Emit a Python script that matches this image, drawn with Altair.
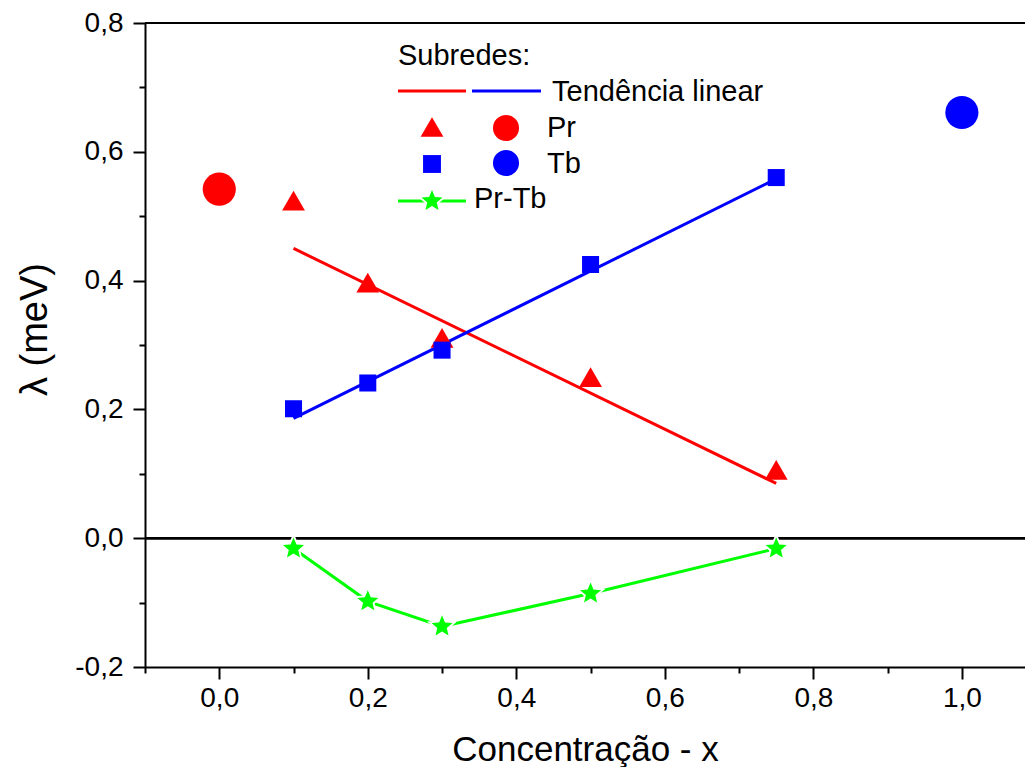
import altair as alt
import pandas as pd

# ---------------- data ----------------
x_sub = [0.1, 0.2, 0.3, 0.5, 0.75]
pr_sub = [0.524, 0.397, 0.311, 0.250, 0.106]
tb_sub = [0.201, 0.241, 0.292, 0.425, 0.560]
prtb_sub = [-0.016, -0.098, -0.137, -0.086, -0.016]

x_pure = [0.0, 1.0]
pure_vals = [0.542, 0.661]
pure_names = ["Pr", "Tb"]

trend_x = [0.1, 0.75]
trend_pr = [0.450, 0.085]
trend_tb = [0.186, 0.558]

x_major = [0.0, 0.2, 0.4, 0.6, 0.8, 1.0]
x_minor = [-0.1, 0.1, 0.3, 0.5, 0.7, 0.9]
y_major = [-0.2, 0.0, 0.2, 0.4, 0.6, 0.8]
y_minor = [-0.1, 0.1, 0.3, 0.5, 0.7]

legend_title = "Subredes:"
legend_labels = ["Tendência linear", "Pr", "Tb", "Pr-Tb"]

# ---------------- styles ----------------
RED = "#FF0000"
BLUE = "#0000FF"
GREEN = "#00FF00"
LABEL_FONT = "Liberation Sans"
TITLE_FONT = "Liberation Sans"
STAR = ("M0,-1L0.265,-0.364L0.951,-0.309L0.428,0.139L0.588,0.809L0,0.45"
        "L-0.588,0.809L-0.428,0.139L-0.951,-0.309L-0.265,-0.364Z")

df_sub = pd.DataFrame({"x": x_sub, "pr": pr_sub, "tb": tb_sub, "prtb": prtb_sub})
df_trend = pd.DataFrame({"x": trend_x, "pr": trend_pr, "tb": trend_tb})
df_pure = pd.DataFrame({"x": x_pure, "y": pure_vals, "name": pure_names})

xscale = alt.Scale(domain=[-0.1, 1.085], nice=False, zero=False)
yscale = alt.Scale(domain=[-0.2, 0.8], nice=False, zero=False)

label_expr = ("(datum.value < -0.001 ? '-' : '') + "
              "replace(format(abs(datum.value), '.1f'), '.', ',')")

common_axis = dict(
    grid=False, domainColor="black", domainWidth=2, tickColor="black", tickWidth=2,
    labelFont=LABEL_FONT, labelFontSize=28, labelColor="black", labelOverlap=False,
    labelFlush=False, titleFont=TITLE_FONT, titleFontWeight="normal",
    titleColor="black", labelExpr=label_expr, tickSize=12,
)
x_axis = alt.Axis(values=x_major, title="Concentração - x", labelPadding=5,
                  titlePadding=20, titleFontSize=35, orient="bottom", **common_axis)
y_axis = alt.Axis(values=y_major, title="λ (meV)", labelPadding=10,
                  titlePadding=20, titleFontSize=38, titleY=306, orient="left", **common_axis)

minor_common = dict(labels=False, title=None, tickSize=6, tickWidth=2, tickColor="black",
                    domain=False, grid=False)
x_axis_minor = alt.Axis(values=x_minor, orient="bottom", **minor_common)
y_axis_minor = alt.Axis(values=y_minor, orient="left", **minor_common)

X = lambda f: alt.X(f"{f}:Q", scale=xscale, axis=None)
Y = lambda f: alt.Y(f"{f}:Q", scale=yscale, axis=None)

# trend lines (first layer carries the major axes)
trend_red = alt.Chart(df_trend).mark_line(color=RED, strokeWidth=3).encode(
    x=alt.X("x:Q", scale=xscale, axis=x_axis),
    y=alt.Y("pr:Q", scale=yscale, axis=y_axis),
)
# invisible layer that carries the minor ticks
minor_ticks = alt.Chart(df_trend).mark_point(opacity=0).encode(
    x=alt.X("x:Q", scale=xscale, axis=x_axis_minor),
    y=alt.Y("pr:Q", scale=yscale, axis=y_axis_minor),
)
trend_blue = alt.Chart(df_trend).mark_line(color=BLUE, strokeWidth=3).encode(x=X("x"), y=Y("tb"))

zero_line = alt.Chart(df_sub).mark_rule(color="black", strokeWidth=2).encode(
    y=alt.YDatum(0, scale=yscale, axis=None))
top_line = alt.Chart(df_sub).mark_rule(color="black", strokeWidth=2).encode(
    y=alt.YDatum(0.8, scale=yscale, axis=None))

green_line = alt.Chart(df_sub).mark_line(color=GREEN, strokeWidth=3).encode(x=X("x"), y=Y("prtb"))
star_gap = alt.Chart(df_sub).mark_point(shape=STAR, filled=True, color="white", size=1000,
                                        opacity=1).encode(x=X("x"), y=Y("prtb"))
stars = alt.Chart(df_sub).mark_point(shape=STAR, filled=True, color=GREEN, size=490,
                                     opacity=1).encode(x=X("x"), y=Y("prtb"))
triangles = alt.Chart(df_sub).mark_point(shape="triangle-up", filled=True, color=RED, size=520,
                                         opacity=1).encode(x=X("x"), y=Y("pr"))
squares = alt.Chart(df_sub).mark_point(shape="square", filled=True, color=BLUE, size=290,
                                       opacity=1).encode(x=X("x"), y=Y("tb"))
circles = alt.Chart(df_pure).mark_point(shape="circle", filled=True, size=1100, opacity=1).encode(
    x=X("x"), y=Y("y"),
    color=alt.Color("name:N", scale=alt.Scale(domain=pure_names, range=[RED, BLUE]), legend=None),
)

# ---------------- custom legend (pixel positions inside the plot) ----------------
one = alt.Data(values=[{"k": 1}])
LX0, LX1, LX2, LX3 = 253, 321, 327, 396


def ltext(txt, x, y):
    return alt.Chart(one).mark_text(text=txt, align="left", baseline="alphabetic",
                                    font=LABEL_FONT, fontSize=29, color="black").encode(
        x=alt.value(x), y=alt.value(y))


def lsym(shape, color, size, x, y):
    return alt.Chart(one).mark_point(shape=shape, filled=True, color=color, size=size,
                                     opacity=1).encode(x=alt.value(x), y=alt.value(y))


def lline(color, x0, x1, y):
    return alt.Chart(one).mark_rule(color=color, strokeWidth=3).encode(
        x=alt.value(x0), x2=alt.value(x1), y=alt.value(y))


legend_layers = [
    ltext(legend_title, LX0, 42),
    lline(RED, LX0, LX1, 68),
    lline(BLUE, LX2, LX3, 68),
    ltext(legend_labels[0], 407, 78),
    lsym("triangle-up", RED, 520, 287, 104),
    lsym("circle", RED, 680, 361, 105),
    ltext(legend_labels[1], 402, 114),
    lsym("square", BLUE, 320, 287, 141),
    lsym("circle", BLUE, 680, 361, 140),
    ltext(legend_labels[2], 402, 150),
    lline(GREEN, LX0, LX1, 178),
    lsym(STAR, "white", 1000, 287, 178),
    lsym(STAR, GREEN, 490, 287, 178),
    ltext(legend_labels[3], 329, 185),
]

chart = alt.layer(
    trend_red, minor_ticks, trend_blue, zero_line, top_line, green_line, star_gap, stars,
    triangles, squares, circles, *legend_layers,
).resolve_axis(x="independent", y="independent").properties(
    width=880, height=644,
    autosize=alt.AutoSizeParams(type="none"),
    padding={"left": 145, "top": 23, "right": 0, "bottom": 100},
).configure_view(stroke=None)

chart.save("out.html", embed_options={"renderer": "svg", "actions": False})
